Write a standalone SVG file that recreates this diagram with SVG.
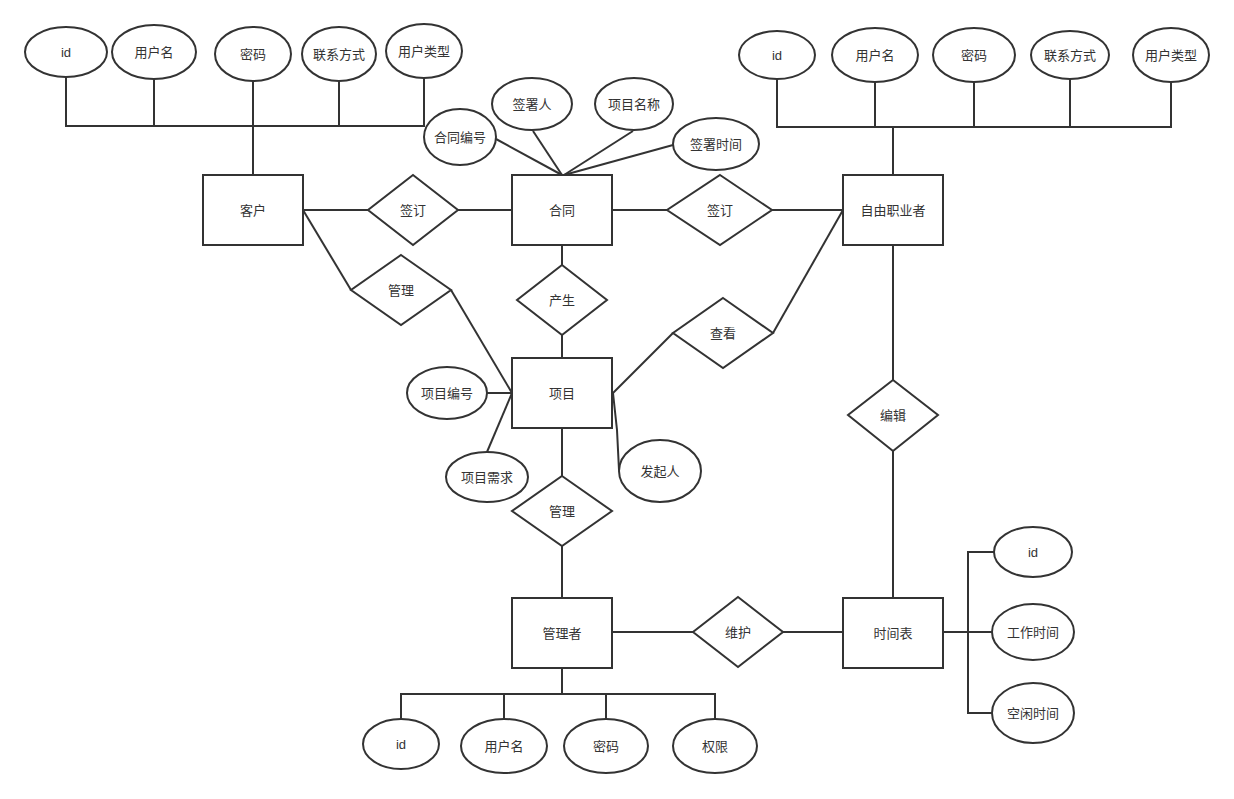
<svg xmlns="http://www.w3.org/2000/svg" width="1234" height="799" viewBox="0 0 1234 799">
<style>
.s{fill:#fff;stroke:#333;stroke-width:2}
.c{fill:none;stroke:#333;stroke-width:2}
text{font-family:"Liberation Sans","Noto Sans CJK SC",sans-serif;font-size:13px;fill:#333;text-anchor:middle;dominant-baseline:central}
</style>
<rect width="1234" height="799" fill="#fff"/>
<g id="connectors" class="c">
<polyline points="66,77 66,126 424,126 424,79"/>
<line x1="154" y1="79" x2="154" y2="126"/>
<line x1="253" y1="81" x2="253" y2="175"/>
<line x1="339" y1="81" x2="339" y2="126"/>
<line x1="303" y1="210" x2="368" y2="210"/>
<line x1="458" y1="210" x2="512" y2="210"/>
<line x1="613" y1="210" x2="667" y2="210"/>
<line x1="772" y1="210" x2="843" y2="210"/>
<line x1="496" y1="139" x2="562" y2="175"/>
<line x1="533" y1="131" x2="562" y2="175"/>
<line x1="633" y1="131" x2="564" y2="175"/>
<line x1="673" y1="145" x2="564" y2="175"/>
<polyline points="777,79 777,127 1171,127 1171,82"/>
<line x1="875" y1="82" x2="875" y2="127"/>
<line x1="974" y1="82" x2="974" y2="127"/>
<line x1="1070" y1="79" x2="1070" y2="127"/>
<line x1="893" y1="127" x2="893" y2="175"/>
<line x1="303" y1="210" x2="351" y2="290"/>
<line x1="451" y1="290" x2="512" y2="393"/>
<line x1="562" y1="245" x2="562" y2="265"/>
<line x1="562" y1="335" x2="562" y2="358"/>
<line x1="613" y1="393" x2="673" y2="333"/>
<line x1="773" y1="333" x2="843" y2="210"/>
<line x1="487" y1="393" x2="512" y2="393"/>
<line x1="487" y1="452" x2="512" y2="393"/>
<polyline points="613,393 617,430 619,470"/>
<line x1="562" y1="428" x2="562" y2="476"/>
<line x1="562" y1="546" x2="562" y2="598"/>
<line x1="613" y1="632" x2="693" y2="632"/>
<line x1="783" y1="632" x2="843" y2="632"/>
<line x1="562" y1="668" x2="562" y2="694"/>
<polyline points="401,719 401,694 715,694 715,719"/>
<line x1="504" y1="694" x2="504" y2="719"/>
<line x1="606" y1="694" x2="606" y2="719"/>
<polyline points="893,245 893,313 893,380"/>
<polyline points="893,451 893,523 893,598"/>
<line x1="943" y1="632" x2="992" y2="632"/>
<polyline points="994,552 968,552 968,713 992,713"/>
</g>
<g id="cust_id"><ellipse class="s" cx="66" cy="52" rx="41" ry="25"/><text x="66" y="52">id</text></g>
<g id="cust_name"><ellipse class="s" cx="154" cy="52" rx="42" ry="27"/><text x="154" y="52">用户名</text></g>
<g id="cust_pwd"><ellipse class="s" cx="253" cy="54" rx="38" ry="27"/><text x="253" y="54">密码</text></g>
<g id="cust_contact"><ellipse class="s" cx="339" cy="54" rx="37" ry="27"/><text x="339" y="54">联系方式</text></g>
<g id="cust_type"><ellipse class="s" cx="424" cy="51" rx="38" ry="27"/><text x="424" y="51">用户类型</text></g>
<g id="customer"><rect class="s" x="203" y="175" width="100" height="70"/><text x="253" y="210">客户</text></g>
<g id="sign1"><polygon class="s" points="413,175 458,210 413,245 368,210"/><text x="413" y="210">签订</text></g>
<g id="contract_no"><ellipse class="s" cx="460" cy="137" rx="36" ry="28"/><text x="460" y="137">合同编号</text></g>
<g id="signer"><ellipse class="s" cx="532" cy="104" rx="40" ry="26"/><text x="532" y="104">签署人</text></g>
<g id="proj_name"><ellipse class="s" cx="634" cy="104" rx="39" ry="26"/><text x="634" y="104">项目名称</text></g>
<g id="sign_time"><ellipse class="s" cx="716" cy="144" rx="43" ry="26"/><text x="716" y="144">签署时间</text></g>
<g id="contract"><rect class="s" x="512" y="175" width="100" height="70"/><text x="562" y="210">合同</text></g>
<g id="sign2"><polygon class="s" points="720,175 772,210 720,245 667,210"/><text x="720" y="210">签订</text></g>
<g id="fl_id"><ellipse class="s" cx="777" cy="55" rx="38" ry="24"/><text x="777" y="55">id</text></g>
<g id="fl_name"><ellipse class="s" cx="875" cy="55" rx="43" ry="27"/><text x="875" y="55">用户名</text></g>
<g id="fl_pwd"><ellipse class="s" cx="974" cy="55" rx="41" ry="27"/><text x="974" y="55">密码</text></g>
<g id="fl_contact"><ellipse class="s" cx="1070" cy="55" rx="39" ry="24"/><text x="1070" y="55">联系方式</text></g>
<g id="fl_type"><ellipse class="s" cx="1171" cy="55" rx="38" ry="27"/><text x="1171" y="55">用户类型</text></g>
<g id="freelancer"><rect class="s" x="843" y="175" width="100" height="70"/><text x="893" y="210">自由职业者</text></g>
<g id="manage1"><polygon class="s" points="401,255 451,290 401,325 351,290"/><text x="401" y="290">管理</text></g>
<g id="produce"><polygon class="s" points="562,265 607,300 562,335 517,300"/><text x="562" y="300">产生</text></g>
<g id="view"><polygon class="s" points="723,298 773,333 723,368 673,333"/><text x="723" y="333">查看</text></g>
<g id="project"><rect class="s" x="512" y="358" width="100" height="70"/><text x="562" y="393">项目</text></g>
<g id="proj_no"><ellipse class="s" cx="447" cy="393" rx="40" ry="26"/><text x="447" y="393">项目编号</text></g>
<g id="proj_req"><ellipse class="s" cx="487" cy="477" rx="41" ry="25"/><text x="487" y="477">项目需求</text></g>
<g id="initiator"><ellipse class="s" cx="660" cy="471" rx="41" ry="31"/><text x="660" y="471">发起人</text></g>
<g id="manage2"><polygon class="s" points="562,476 612,511 562,546 512,511"/><text x="562" y="511">管理</text></g>
<g id="admin"><rect class="s" x="512" y="598" width="100" height="70"/><text x="562" y="633">管理者</text></g>
<g id="maintain"><polygon class="s" points="738,597 783,632 738,667 693,632"/><text x="738" y="632">维护</text></g>
<g id="ad_id"><ellipse class="s" cx="401" cy="744" rx="38" ry="25"/><text x="401" y="744">id</text></g>
<g id="ad_name"><ellipse class="s" cx="504" cy="746" rx="43" ry="27"/><text x="504" y="746">用户名</text></g>
<g id="ad_pwd"><ellipse class="s" cx="606" cy="746" rx="42" ry="27"/><text x="606" y="746">密码</text></g>
<g id="ad_perm"><ellipse class="s" cx="715" cy="746" rx="42" ry="27"/><text x="715" y="746">权限</text></g>
<g id="edit"><polygon class="s" points="893,380 938,415 893,451 848,415"/><text x="893" y="415">编辑</text></g>
<g id="schedule"><rect class="s" x="843" y="598" width="100" height="70"/><text x="893" y="633">时间表</text></g>
<g id="sc_id"><ellipse class="s" cx="1033" cy="552" rx="39" ry="25"/><text x="1033" y="552">id</text></g>
<g id="sc_work"><ellipse class="s" cx="1033" cy="632" rx="41" ry="28"/><text x="1033" y="632">工作时间</text></g>
<g id="sc_free"><ellipse class="s" cx="1033" cy="713" rx="41" ry="30"/><text x="1033" y="713">空闲时间</text></g>
</svg>
